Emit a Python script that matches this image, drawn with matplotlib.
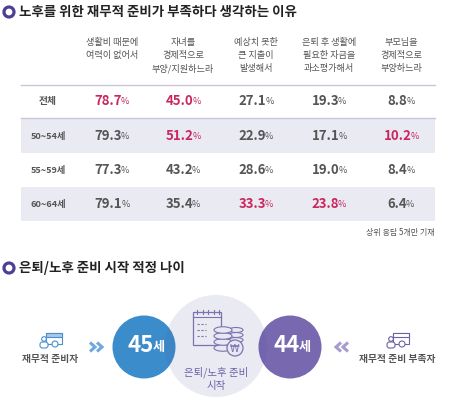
import matplotlib
matplotlib.use("Agg")
import matplotlib.pyplot as plt
from matplotlib.patches import Circle, Rectangle, Ellipse, FancyBboxPatch

plt.rcParams["font.family"] = ["Noto Sans CJK KR", "DejaVu Sans"]

# ---- data ----
title_1 = "노후를 위한 재무적 준비가 부족하다 생각하는 이유"
title_2 = "은퇴/노후 준비 시작 적정 나이"
reasons = ["생활비 때문에\n여력이 없어서", "자녀를\n경제적으로\n부양/지원하느라",
           "예상치 못한\n큰 지출이\n발생해서", "은퇴 후 생활에\n필요한 자금을\n과소평가해서",
           "부모님을\n경제적으로\n부양하느라"]
groups = ["전체", "50~54세", "55~59세", "60~64세"]
values = [
    [78.7, 45.0, 27.1, 19.3, 8.8],
    [79.3, 51.2, 22.9, 17.1, 10.2],
    [77.3, 43.2, 28.6, 19.0, 8.4],
    [79.1, 35.4, 33.3, 23.8, 6.4],
]
highlight = [
    [1, 1, 0, 0, 0],
    [0, 1, 0, 0, 1],
    [0, 0, 0, 0, 0],
    [0, 0, 1, 1, 0],
]
note = "상위 응답 5개만 기재"
ready_label = "재무적 준비자"
ready_age = 45
notready_label = "재무적 준비 부족자"
notready_age = 44
center_label = "은퇴/노후 준비\n시작"

# ---- style ----
GRAY = "#555555"
PINK = "#c8285e"
BAND = "#eaeaf2"
LINE = "#c9c6dc"
BLUE = "#3a8ccb"
PURPLE = "#7868b0"
DARKP = "#4d3f95"

fig = plt.figure(figsize=(4.5, 4.04), dpi=100)
ax = fig.add_axes([0, 0, 1, 1])
ax.set_xlim(0, 450)
ax.set_ylim(404, 0)
ax.axis("off")
renderer = fig.canvas.get_renderer()


def bullet_title(y, text):
    ax.add_patch(Circle((9, y), 5.0, facecolor="white", edgecolor=DARKP, lw=2.3, zorder=3))
    ax.text(19, y, text, fontsize=9.7, fontweight="bold", color="#222222", va="center", ha="left")


def width_of(t):
    b = t.get_window_extent(renderer)
    inv = ax.transData.inverted()
    return inv.transform((b.x1, 0))[0] - inv.transform((b.x0, 0))[0]


def pair(x, y, big, small, color, fs1, fs2, dy=0.8, gap=-1.0, bold2=False, z=4):
    t1 = ax.text(x, y, big, fontsize=fs1, fontweight="bold", color=color, ha="left", va="center", zorder=z)
    t2 = ax.text(x, y + dy, small, fontsize=fs2, color=color, ha="left", va="center", zorder=z,
                 fontweight="bold" if bold2 else "normal")
    w1 = width_of(t1)
    w2 = width_of(t2)
    start = x - (w1 + gap + w2) / 2
    t1.set_x(start)
    t2.set_x(start + w1 + gap)


# ---- table ----
bullet_title(12, title_1)
col_x = [112, 183, 256, 329, 401]
label_x = 48
row_y = [101, 136, 170, 204]
row_h = 34

for i, r in enumerate(reasons):
    ax.text(col_x[i], 38, r, fontsize=6.6, color=GRAY, ha="center", va="top", linespacing=1.55)

ax.plot([21, 435], [85, 85], color=LINE, lw=1)
ax.plot([21, 435], [118, 118], color=LINE, lw=1)
for j in (1, 3):
    ax.add_patch(Rectangle((21, row_y[j] - row_h / 2), 414, row_h, facecolor=BAND, edgecolor="none", zorder=0))

for j, g in enumerate(groups):
    ax.text(label_x, row_y[j], g, fontsize=7 if j == 0 else 6.6, fontweight="bold", color=GRAY,
            ha="center", va="center")
    for i, v in enumerate(values[j]):
        pair(col_x[i], row_y[j], f"{v:.1f}", "%", PINK if highlight[j][i] else GRAY, 9.5, 6.5)

ax.text(435, 233, note, fontsize=5.8, color=GRAY, ha="right", va="center")

# ---- ages ----
bullet_title(268, title_2)
cy = 347
ax.add_patch(Circle((144, cy), 31.5, facecolor=BLUE, edgecolor="none", zorder=2))
ax.add_patch(Circle((290, cy), 31.5, facecolor=PURPLE, edgecolor="none", zorder=2))
ax.add_patch(Circle((216, 346), 51, facecolor=(0.33, 0.33, 0.6, 0.12), edgecolor="none", zorder=3))

pair(146, cy - 1, str(ready_age), "세", "white", 16, 9.5, dy=1.5, gap=-0.5, bold2=True, z=5)
pair(292, cy - 1, str(notready_age), "세", "white", 16, 9.5, dy=1.5, gap=-0.5, bold2=True, z=5)

ax.text(216, 367, center_label, fontsize=7.5, color="#6e60a8", ha="center", va="top",
        linespacing=1.3, zorder=5)

# center icon: calendar + coins
ic = "#7d72b0"
cf = "#e8e8f2"
ax.add_patch(Rectangle((193, 312), 28, 33, facecolor="none", edgecolor=ic, lw=0.9, zorder=4))
for k in range(5):
    ax.plot([197 + k * 5.5, 197 + k * 5.5], [310, 314], color=ic, lw=0.8, zorder=4)
ax.plot([193, 221], [317, 317], color=ic, lw=0.8, zorder=4)
for k in range(3):
    ax.plot([197, 206], [324 + k * 6, 324 + k * 6], color=ic, lw=0.8, ls=(0, (2, 1.5)), zorder=4)
for k in range(3):
    ax.add_patch(Ellipse((236, 340 - k * 5), 14, 5, facecolor=cf, edgecolor=ic, lw=0.8, zorder=5))
for k in range(4):
    ax.add_patch(Ellipse((223, 348 - k * 6), 18, 6.5, facecolor=cf, edgecolor=ic, lw=0.8, zorder=6))
ax.add_patch(Circle((235, 348), 8, facecolor=cf, edgecolor=ic, lw=0.9, zorder=7))
ax.text(235, 348.5, "₩", fontsize=7, color=ic, ha="center", va="center", zorder=8,
        family=["DejaVu Sans"])


def person_icon(x, y, col, fill):
    ax.add_patch(Rectangle((x - 4, y - 12), 16, 11, facecolor="white", edgecolor=col, lw=0.8, zorder=4))
    ax.add_patch(Rectangle((x - 4, y - 12), 16, 4, facecolor=fill, edgecolor=col, lw=0.8, zorder=4))
    ax.add_patch(Circle((x - 6, y - 6), 2.3, facecolor="white", edgecolor=col, lw=0.8, zorder=5))
    ax.add_patch(FancyBboxPatch((x - 10, y - 3), 8, 6, boxstyle="round,pad=0,rounding_size=2.5",
                                facecolor="white", edgecolor=col, lw=0.8, zorder=5))
    ax.add_patch(Circle((x + 5, y - 1), 3.0, facecolor="white", edgecolor=col, lw=0.8, zorder=5))


person_icon(50, 345, "#4a90d0", "#a9c8ea")
person_icon(397, 345, "#6e60a8", "white")
ax.text(50, 359, ready_label, fontsize=7, fontweight="bold", color=GRAY, ha="center", va="center")
ax.text(397, 359, notready_label, fontsize=7, fontweight="bold", color=GRAY, ha="center", va="center")


def chevrons(x, y, direction, col):
    for k in (-3.5, 3.5):
        xs = x + k
        ax.plot([xs - 2.5 * direction, xs + 2.5 * direction, xs - 2.5 * direction], [y - 4.5, y, y + 4.5],
                color=col, lw=2.2, solid_joinstyle="miter", solid_capstyle="butt", zorder=4)


chevrons(96, 347, 1, "#6fa8dc")
chevrons(342, 347, -1, "#a79ccc")

fig.savefig("out.png", dpi=100, facecolor="white")
